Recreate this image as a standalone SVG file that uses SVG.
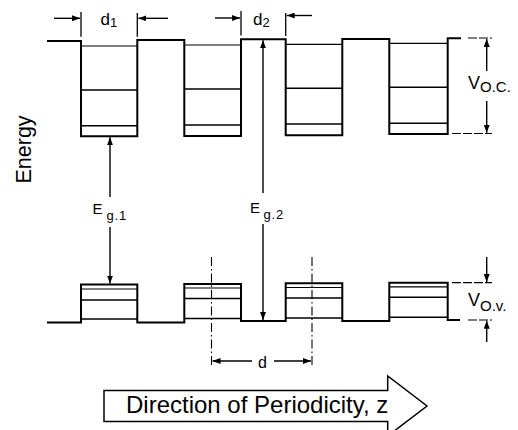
<svg xmlns="http://www.w3.org/2000/svg" width="518" height="430" viewBox="0 0 518 430">
<defs>
<marker id="ah" viewBox="0 0 8 6" refX="8" refY="3" markerWidth="8" markerHeight="6" markerUnits="userSpaceOnUse" orient="auto">
<path d="M0,0 L8,3 L0,6 z" fill="#000"/>
</marker>
<style>
.prof{fill:none;stroke:#000;stroke-width:2;stroke-linejoin:miter}
.lvl{fill:none;stroke:#000;stroke-width:1.6}
.thin{fill:none;stroke:#000;stroke-width:1.2}
.dim{fill:none;stroke:#000;stroke-width:1.3}
.arr{fill:none;stroke:#000;stroke-width:1.4;marker-end:url(#ah)}
.ext{fill:none;stroke:#000;stroke-width:1.2;stroke-dasharray:9 2}
.cl{fill:none;stroke:#000;stroke-width:1.1;stroke-dasharray:9 3 1.5 3}
.t{font-family:"Liberation Sans",Arial,sans-serif;fill:#000}
</style>
</defs>
<rect width="518" height="430" fill="#fff"/>

<g id="conduction-band">
<polyline class="prof" points="47,41 81,41 81,136.3 137.3,136.3 137.3,40 184.3,40 184.3,136 241,136 241,39.3 285.7,39.3 285.7,135.3 342.3,135.3 342.3,39 389.3,39 389.3,134 447.7,134 447.7,38.3 461,38.3"/>
<g id="cb-levels">
<line class="thin" x1="81" y1="46" x2="137.3" y2="46"/>
<line class="lvl" x1="81" y1="90" x2="137.3" y2="90"/>
<line class="lvl" x1="81" y1="125.7" x2="137.3" y2="125.7"/>
<line class="thin" x1="184.3" y1="45" x2="241" y2="45"/>
<line class="lvl" x1="184.3" y1="89" x2="241" y2="89"/>
<line class="lvl" x1="184.3" y1="125" x2="241" y2="125"/>
<line class="thin" x1="285.7" y1="44.3" x2="342.3" y2="44.3"/>
<line class="lvl" x1="285.7" y1="88.3" x2="342.3" y2="88.3"/>
<line class="lvl" x1="285.7" y1="124" x2="342.3" y2="124"/>
<line class="thin" x1="389.3" y1="43.3" x2="447.7" y2="43.3"/>
<line class="lvl" x1="389.3" y1="87.3" x2="447.7" y2="87.3"/>
<line class="lvl" x1="389.3" y1="123.3" x2="447.7" y2="123.3"/>
</g>
</g>

<g id="valence-band">
<polyline class="prof" points="47,322.5 81,322.5 81,284.5 137.3,284.5 137.3,322.5 184.3,322.5 184.3,284 241,284 241,321 285.7,321 285.7,283.3 342.3,283.3 342.3,321 389.3,321 389.3,282.7 447.7,282.7 447.7,320 460,320"/>
<g id="vb-levels">
<line class="thin" x1="81" y1="289" x2="137.3" y2="289"/>
<line class="lvl" x1="81" y1="300" x2="137.3" y2="300"/>
<line class="lvl" x1="81" y1="319" x2="137.3" y2="319"/>
<line class="thin" x1="184.3" y1="288" x2="241" y2="288"/>
<line class="lvl" x1="184.3" y1="298.5" x2="241" y2="298.5"/>
<line class="lvl" x1="184.3" y1="318.5" x2="241" y2="318.5"/>
<line class="thin" x1="285.7" y1="287.5" x2="342.3" y2="287.5"/>
<line class="lvl" x1="285.7" y1="298" x2="342.3" y2="298"/>
<line class="lvl" x1="285.7" y1="318" x2="342.3" y2="318"/>
<line class="thin" x1="389.3" y1="286.8" x2="447.7" y2="286.8"/>
<line class="lvl" x1="389.3" y1="297.3" x2="447.7" y2="297.3"/>
<line class="lvl" x1="389.3" y1="317.3" x2="447.7" y2="317.3"/>
</g>
</g>

<g id="connectors">
<!-- d1 / d2 dimension ticks and arrows -->
<line class="dim" x1="81" y1="12" x2="81" y2="36.7"/>
<line class="dim" x1="137.3" y1="13" x2="137.3" y2="36.7"/>
<line class="dim" x1="241" y1="11" x2="241" y2="35.5"/>
<line class="dim" x1="285.7" y1="13" x2="285.7" y2="36"/>
<line class="arr" x1="54" y1="18.3" x2="80" y2="18.3"/>
<line class="arr" x1="168" y1="18.3" x2="138.3" y2="18.3"/>
<line class="arr" x1="215" y1="18" x2="240" y2="18"/>
<line class="arr" x1="312" y1="15.5" x2="286.7" y2="15.5"/>
<!-- V o.c. -->
<line class="ext" x1="468" y1="38" x2="492" y2="38"/>
<line class="ext" x1="452" y1="133.5" x2="492" y2="133.5"/>
<line class="arr" x1="486.7" y1="71" x2="486.7" y2="39"/>
<line class="arr" x1="486.7" y1="101" x2="486.7" y2="132.8"/>
<!-- V o.v. -->
<line class="ext" x1="452" y1="282.7" x2="492" y2="282.7"/>
<line class="ext" x1="468" y1="320" x2="492" y2="320"/>
<line class="arr" x1="486.7" y1="257" x2="486.7" y2="282"/>
<line class="arr" x1="486.7" y1="342" x2="486.7" y2="320.7"/>
<!-- Eg1 -->
<line class="arr" x1="110" y1="197" x2="110" y2="137.3"/>
<line class="arr" x1="110" y1="227" x2="110" y2="283.5"/>
<!-- Eg2 -->
<line class="arr" x1="263" y1="193" x2="263" y2="40.3"/>
<line class="arr" x1="263" y1="224" x2="263" y2="320"/>
<!-- period d -->
<line class="cl" x1="211.5" y1="257" x2="211.5" y2="368"/>
<line class="cl" x1="312" y1="257" x2="312" y2="368"/>
<line class="arr" x1="252" y1="361" x2="212.5" y2="361"/>
<line class="arr" x1="274" y1="361" x2="311" y2="361"/>
</g>

<g id="direction-arrow">
<polygon points="104,390.5 387.7,390.5 387.7,376 427,406 387.7,436 387.7,421.5 104,421.5" fill="#fff" stroke="#000" stroke-width="1.5"/>
<text class="t" x="126" y="412.5" font-size="24">Direction of Periodicity, z</text>
</g>

<g id="labels">
<text class="t" transform="translate(31,183.5) rotate(-90)" font-size="21.5">Energy</text>
<text class="t" x="100.5" y="24.5" font-size="17">d<tspan font-size="13" dy="2.5">1</tspan></text>
<text class="t" x="253" y="24.5" font-size="17">d<tspan font-size="13" dy="2.5">2</tspan></text>
<text class="t" x="92.5" y="213.5" font-size="15">E</text>
<text class="t" x="106.5" y="219.5" font-size="13" letter-spacing="0.8">g.1</text>
<text class="t" x="250" y="212.8" font-size="15">E</text>
<text class="t" x="263.5" y="218.8" font-size="13" letter-spacing="0.8">g.2</text>
<text class="t" x="468" y="88.5" font-size="18">V<tspan font-size="15" dy="3.5">O.C.</tspan></text>
<text class="t" x="468" y="305.5" font-size="18">V<tspan font-size="15" dy="5">O.v.</tspan></text>
<text class="t" x="258" y="368" font-size="16">d</text>
</g>
</svg>
